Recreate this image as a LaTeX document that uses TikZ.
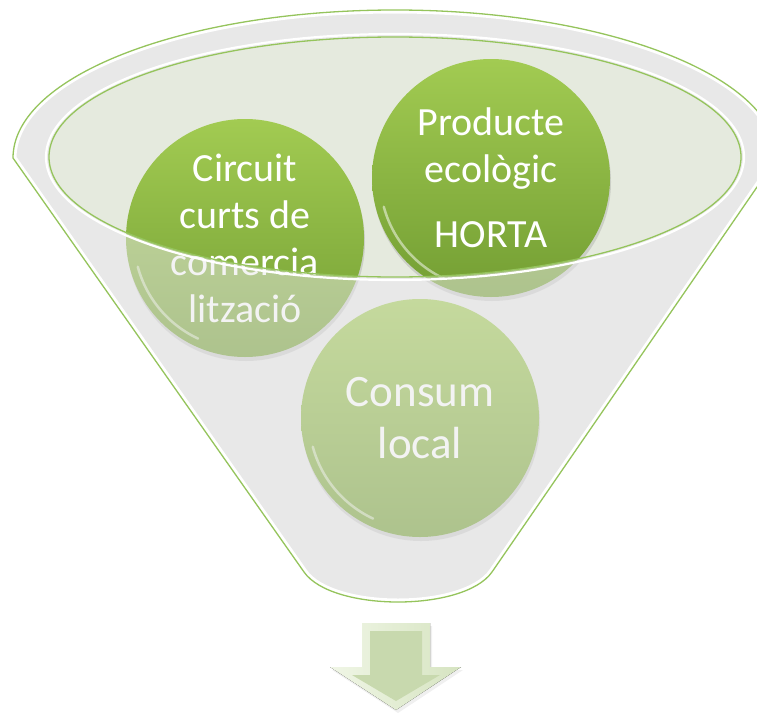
\documentclass[tikz,border=0pt]{standalone}
\usepackage{fontspec}
\setmainfont{Carlito}
\usetikzlibrary{shadows,calc}
\definecolor{rimgreen}{HTML}{95C45C}
\definecolor{funnelgray}{HTML}{E8E8E8}
\definecolor{innerfill}{HTML}{E5EADE}
\definecolor{bubtop}{HTML}{A2CB52}
\definecolor{bubbot}{HTML}{739E33}
\definecolor{arrowlight}{HTML}{F0F6E6}
\definecolor{arrowside}{HTML}{D6E4C1}
\definecolor{arrowmid}{HTML}{C8D9AE}
\tikzset{
  bubble/.style={circle, minimum size=238pt, inner sep=0pt, align=center,
    text=white, font=\fontsize{40}{47}\selectfont,
    top color=bubtop, bottom color=bubbot,
    drop shadow={opacity=0.25, shadow xshift=1pt, shadow yshift=-4pt}},
  glint/.style={white, opacity=0.5, line width=2.5pt, line cap=round},
  rimline/.style={rimgreen, line width=1.3pt},
  hiline/.style={white, line width=2.2pt}
}
\begin{document}
\begin{tikzpicture}[x=1pt,y=-1pt]
\useasboundingbox (0,0) rectangle (757,712);
\clip (0,0) rectangle (757,712);
\def\funnelpath{(13,158) arc[start angle=180,end angle=360,x radius=382,y radius=148] -- (492,572) .. controls (464,612) and (332,612) .. (304,572) -- cycle}
% funnel body
\fill[funnelgray] \funnelpath;
% inner ellipse interior
\fill[innerfill] (395,157) ellipse [x radius=346, y radius=120];
% bubbles
\node[bubble] (circ) at (245,238) {Circuit\\curts de\\comercia\\lització};
\node[bubble] (prod) at (491,178) {Producte\\ecològic\\[18pt]HORTA};
\node[bubble, font=\fontsize{45}{52}\selectfont] (cons) at (420,418) {Consum\\local};
\foreach \c in {circ,prod,cons}{
  \draw[glint] ($(\c.center)+(165:111)$) arc[start angle=165, end angle=115, radius=111];
}
% translucent front of funnel
\fill[funnelgray, opacity=0.5, even odd rule] \funnelpath (395,157) ellipse [x radius=346, y radius=120];
% inner ellipse rim
\draw[hiline] (395,157) ellipse [x radius=349, y radius=123];
\draw[rimline] (395,157) ellipse [x radius=346, y radius=120];
% funnel outline with inner white bevel
\begin{scope}
  \clip \funnelpath;
  \draw[white, line width=7pt] \funnelpath;
\end{scope}
\draw[rimline] \funnelpath;
% arrow
\fill[black, opacity=0.06] (364,626) -- (432,626) -- (432,670) -- (463,670) -- (398,713) -- (332,670) -- (364,670) -- cycle;
\fill[left color=arrowlight, right color=arrowside] (362,623) -- (430,623) -- (430,667) -- (461,667) -- (396,710) -- (330,667) -- (362,667) -- cycle;
\fill[arrowmid] (370,631) -- (422,631) -- (422,675) -- (440,675) -- (396,701) -- (352,675) -- (370,675) -- cycle;
\end{tikzpicture}
\end{document}
